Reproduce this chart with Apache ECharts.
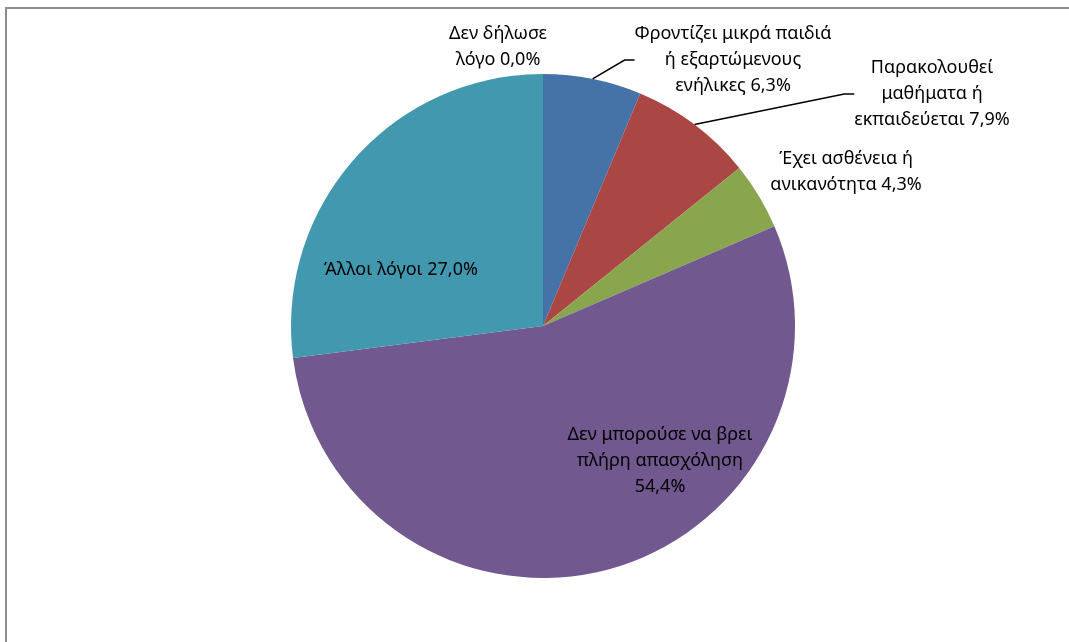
<!DOCTYPE html>
<html>
<head>
<meta charset="utf-8">
<script src="https://cdn.jsdelivr.net/npm/echarts@6/dist/echarts.min.js"></script>
<style>
  html, body { margin: 0; padding: 0; background: #fff; }
  #chart { width: 1069px; height: 642px; position: relative; }
  .frame {
    position: absolute; left: 5px; top: 7px; width: 1100px; height: 700px;
    border-left: 2px solid #8c8c8c; border-top: 2px solid #8c8c8c;
    pointer-events: none;
  }
</style>
</head>
<body>
<div id="chart"></div>
<div class="frame"></div>
<script>
// 数据
const reasons = [
  'Δεν δήλωσε\nλόγο',
  'Φροντίζει μικρά παιδιά\nή εξαρτώμενους\nενήλικες',
  'Παρακολουθεί\nμαθήματα ή\nεκπαιδεύεται',
  'Έχει ασθένεια ή\nανικανότητα',
  'Δεν μπορούσε να βρει\nπλήρη απασχόληση\n',
  'Άλλοι λόγοι'
]
const shares = [0.0, 6.3, 7.9, 4.3, 54.4, 27.0]

// 配色
const sliceColors = ['#4572A7', '#4572A7', '#AA4643', '#89A54E', '#71588F', '#4198AF']

// label anchor points (label centres)
const labelSpots = [
  [498, 47], [733, 60], [932, 94], [846, 172], [660, 461], [401, 270]
]
const showLine = [false, true, true, false, false, false]

const chart = echarts.init(document.getElementById('chart'))

const fmtPct = v => v.toFixed(1).replace('.', ',') + '%'

chart.setOption({
  animation: false,
  series: [
    {
      type: 'pie',
      center: [543, 326],
      radius: 252,
      startAngle: 90,
      clockwise: true,
      itemStyle: { borderWidth: 0 },
      label: {
        show: true,
        color: '#000',
        fontFamily: 'Noto Sans',
        fontSize: 18,
        lineHeight: 26,
        align: 'center',
        formatter: p => {
          const name = reasons[p.dataIndex]
          return name.endsWith('\n') ? name + fmtPct(p.value) : name + ' ' + fmtPct(p.value)
        }
      },
      labelLine: {
        lineStyle: { color: '#000', width: 1.5 },
        length: 10,
        length2: 10
      },
      labelLayout: params => {
        const s = labelSpots[params.dataIndex]
        return { x: s[0], y: s[1], align: 'center', verticalAlign: 'middle' }
      },
      data: shares.map((v, i) => ({
        name: reasons[i],
        value: v,
        itemStyle: { color: sliceColors[i] },
        labelLine: { show: showLine[i] }
      }))
    }
  ]
})
</script>
</body>
</html>
